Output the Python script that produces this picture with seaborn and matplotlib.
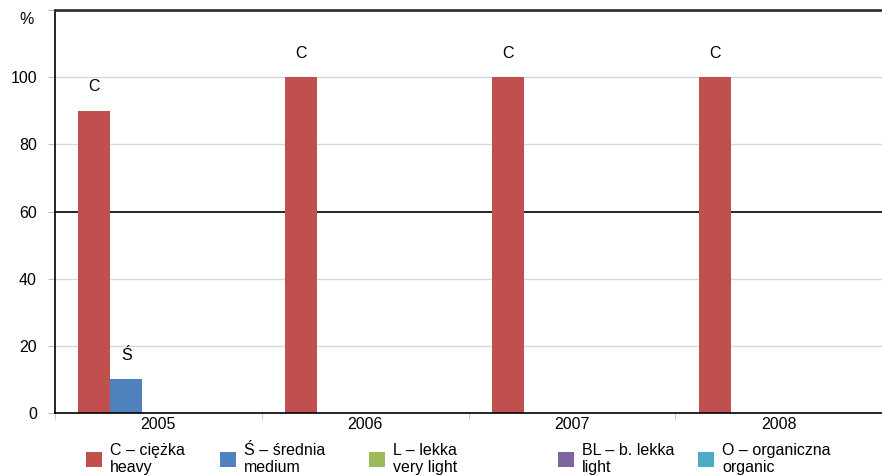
import pandas as pd
import matplotlib
matplotlib.use("Agg")
import matplotlib.pyplot as plt
import matplotlib.patches as mpatches
import seaborn as sns

years = ["2005", "2006", "2007", "2008"]
codes = ["C", "Ś", "L", "BL", "O"]
labels = ["C – ciężka\nheavy", "Ś – średnia\nmedium", "L – lekka\nvery light",
          "BL – b. lekka\nlight", "O – organiczna\norganic"]
heavy = [90, 100, 100, 100]
medium = [10, 0, 0, 0]
very_light = [0, 0, 0, 0]
light = [0, 0, 0, 0]
organic = [0, 0, 0, 0]
colors = ["#C0504D", "#4F81BD", "#9BBB59", "#8064A2", "#4BACC6"]

series = [heavy, medium, very_light, light, organic]
rows = []
for code, vals in zip(codes, series):
    for y, v in zip(years, vals):
        rows.append({"Year": y, "Type": code, "Value": v})
df = pd.DataFrame(rows)

sns.set_style("white")
plt.rcParams["font.family"] = ["Liberation Sans", "DejaVu Sans"]
plt.rcParams["text.color"] = "black"
plt.rcParams["xtick.labelcolor"] = "black"
plt.rcParams["ytick.labelcolor"] = "black"
fs = 11.5

fig = plt.figure(figsize=(8.82, 4.75), dpi=100)
ax = fig.add_axes([55 / 882, 62 / 475, 827 / 882, 403 / 475])

sns.barplot(data=df, x="Year", y="Value", hue="Type", hue_order=codes,
            palette=colors, width=0.775, saturation=1, linewidth=0,
            ax=ax, legend=False)

ax.set_ylim(0, 120)
ax.set_xlim(-0.5, 3.5)
ax.set_yticks([0, 20, 40, 60, 80, 100, 120])
ax.set_yticklabels(["0", "20", "40", "60", "80", "100", ""])
ax.set_xlabel("")
ax.set_ylabel("")

# gridlines
for v in [20, 40, 80, 100]:
    ax.axhline(v, color="#D9D9D9", lw=1, zorder=0)
ax.axhline(60, color="black", lw=1.2, zorder=0.5)
ax.axhline(120, color="#333333", lw=2, zorder=3, clip_on=False)

for s in ["top", "right"]:
    ax.spines[s].set_visible(False)
ax.spines["left"].set_color("black")
ax.spines["left"].set_linewidth(1.2)
ax.spines["bottom"].set_color("black")
ax.spines["bottom"].set_linewidth(1.2)

ax.tick_params(axis="y", which="major", length=5, color="#BFBFBF", pad=8,
               left=True, labelsize=fs)
ax.tick_params(axis="x", which="major", length=0, pad=3, labelsize=fs)
ax.set_xticks([-0.5, 0.5, 1.5, 2.5], minor=True)
ax.tick_params(axis="x", which="minor", length=4, color="#BFBFBF", bottom=True)
yt = ax.yaxis.get_major_ticks()
yt[3].tick1line.set_color("black")
yt[6].tick1line.set_color("#333333")

# letters above bars
for cont, code in zip(ax.containers, codes):
    lbls = [code if b.get_height() > 0 else "" for b in cont]
    ax.bar_label(cont, labels=lbls, padding=12, fontsize=fs)

fig.text(27 / 882, 1 - 20 / 475, "%", ha="center", va="center", fontsize=fs)

# legend entries
legend_x = [86, 220, 369, 558, 698]
for x, lab, col in zip(legend_x, labels, colors):
    h = mpatches.Patch(facecolor=col, edgecolor="none")
    fig.legend(handles=[h], labels=[lab], loc="center left",
               bbox_to_anchor=(x / 882, 1 - 459 / 475), frameon=False,
               handlelength=1.0, handleheight=1.0, handletextpad=0.5,
               borderpad=0, borderaxespad=0, fontsize=fs, labelspacing=0)

fig.savefig("out.png", dpi=100)
